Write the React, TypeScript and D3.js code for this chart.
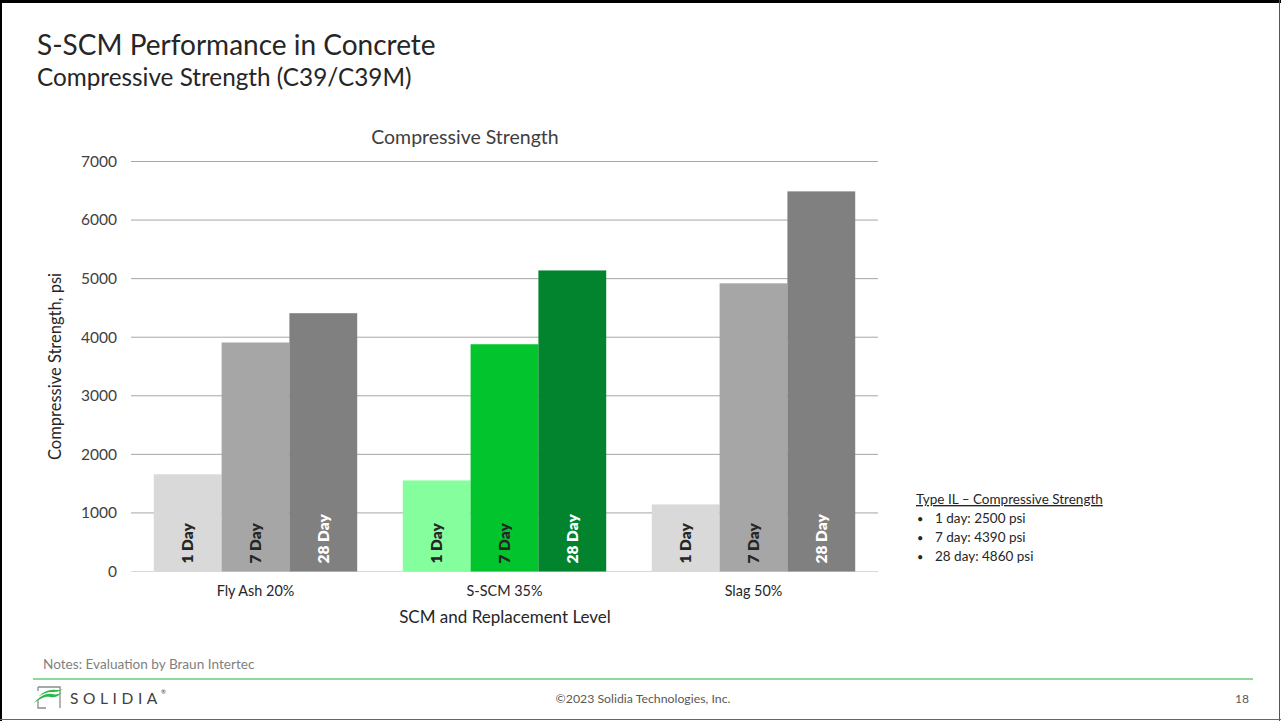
import React from "react";
import * as d3 from "d3";

// Replacement levels (x categories) and curing ages (series)
const categories = ["Fly Ash 20%", "S-SCM 35%", "Slag 50%"];
const ages = ["1 Day", "7 Day", "28 Day"];

// Compressive strength, psi, per category for each age
const day1 = [1660, 1555, 1145];
const day7 = [3910, 3880, 4920];
const day28 = [4410, 5140, 6490];

const yTicks = [0, 1000, 2000, 3000, 4000, 5000, 6000, 7000];

// Fill per category (rows) and age (columns)
const grayFills = ["#D9D9D9", "#A6A6A6", "#808080"];
const greenFills = ["#85FF9E", "#02C42D", "#02842F"];
const labelColors = ["#262626", "#262626", "#FFFFFF"];

const typeILNotes = ["1 day: 2500 psi", "7 day: 4390 psi", "28 day: 4860 psi"];

const FONT = "Lato, 'Open Sans', sans-serif";

export default function App() {
  const W = 1281;
  const H = 721;
  const plot = { left: 131, right: 878, top: 161.5, bottom: 571.5 };

  const x0 = d3
    .scaleBand<string>()
    .domain(categories)
    .range([plot.left, plot.right])
    .paddingInner(0.183)
    .paddingOuter(0.0915);
  const x1 = d3.scaleBand<string>().domain(ages).range([0, x0.bandwidth()]);
  const y = d3.scaleLinear().domain([0, 7000]).range([plot.bottom, plot.top]);

  const series = [day1, day7, day28];

  return (
    <svg
      width={W}
      height={H}
      viewBox={`0 0 ${W} ${H}`}
      style={{ position: "absolute", left: 0, top: 0, background: "#fff" }}
      fontFamily={FONT}
    >
      {/* slide frame */}
      <rect x={0} y={0} width={W} height={H} fill="#fff" />
      <line x1={0} y1={1.5} x2={W} y2={1.5} stroke="#000" strokeWidth={3} />
      <line x1={1} y1={0} x2={1} y2={H} stroke="#000" strokeWidth={2} />
      <line x1={W - 1.5} y1={0} x2={W - 1.5} y2={H} stroke="#555" strokeWidth={1} />
      <line x1={0} y1={H - 1.5} x2={W} y2={H - 1.5} stroke="#666" strokeWidth={1} />

      {/* slide titles */}
      <text x={37} y={55} fontSize={28} fill="#262626">
        S-SCM Performance in Concrete
      </text>
      <text x={37} y={86} fontSize={24.3} fill="#262626">
        Compressive Strength (C39/C39M)
      </text>

      {/* chart title */}
      <text x={465} y={144} fontSize={19.5} fill="#404040" textAnchor="middle">
        Compressive Strength
      </text>

      {/* gridlines and y ticks */}
      {yTicks.map((t) => (
        <g key={t}>
          <line
            x1={plot.left}
            x2={plot.right}
            y1={y(t)}
            y2={y(t)}
            stroke={t === 0 ? "#D9D9D9" : "#A6A6A6"}
            strokeWidth={1}
          />
          <text
            x={117}
            y={y(t)}
            dy="0.35em"
            fontSize={15.5}
            fill="#404040"
            textAnchor="end"
          >
            {t}
          </text>
        </g>
      ))}

      {/* bars */}
      {categories.map((cat, ci) => {
        const fills = ci === 1 ? greenFills : grayFills;
        return (
          <g key={cat} transform={`translate(${x0(cat)},0)`}>
            {ages.map((age, ai) => {
              const v = series[ai][ci];
              const bx = x1(age)!;
              const bw = x1.bandwidth();
              return (
                <g key={age}>
                  <rect
                    x={bx}
                    y={y(v)}
                    width={bw}
                    height={y(0) - y(v)}
                    fill={fills[ai]}
                  />
                  <text
                    transform={`translate(${bx + bw / 2},${plot.bottom - 8}) rotate(-90)`}
                    dy="0.36em"
                    fontSize={15.5}
                    fontWeight={800}
                    fill={labelColors[ai]}
                  >
                    {age}
                  </text>
                </g>
              );
            })}
            <text
              x={x0.bandwidth() / 2}
              y={596}
              fontSize={14.4}
              fill="#262626"
              textAnchor="middle"
            >
              {cat}
            </text>
          </g>
        );
      })}

      {/* axis titles */}
      <text x={505} y={623} fontSize={17} fill="#262626" textAnchor="middle">
        SCM and Replacement Level
      </text>
      <text
        transform={`translate(61,${(plot.top + plot.bottom) / 2}) rotate(-90)`}
        fontSize={16.5}
        fill="#262626"
        textAnchor="middle"
      >
        Compressive Strength, psi
      </text>

      {/* Type IL reference values */}
      <text x={916} y={504} fontSize={13.5} fill="#262626" textDecoration="underline">
        Type IL – Compressive Strength
      </text>
      {typeILNotes.map((n, i) => (
        <g key={n}>
          <text x={917} y={523 + i * 19} fontSize={11} fill="#262626">
            •
          </text>
          <text x={935} y={523 + i * 19} fontSize={13.5} fill="#262626">
            {n}
          </text>
        </g>
      ))}

      {/* notes and footer */}
      <text x={43} y={669} fontSize={13.6} fill="#7F7F7F">
        Notes: Evaluation by Braun Intertec
      </text>
      <line x1={33} x2={1253} y1={679} y2={679} stroke="#22B33A" strokeWidth={1.2} />

      {/* Solidia mark */}
      <g>
        <path d="M38,687 H60 V708" fill="none" stroke="#8C8C8C" strokeWidth={1.3} />
        <path d="M38,687 V691 M38,700 V708 H46" fill="none" stroke="#8C8C8C" strokeWidth={1.3} />
        <path
          d="M34,703 C40,696 46,693 52,694 C56,695 59,694 62,692 C58,697 54,698 50,697 C45,696 40,699 34,703 Z"
          fill="#2DB84B"
        />
        <path
          d="M38,697 C44,691 50,689 56,690 C59,690 61,690 63,689 C59,692 55,692 52,692 C47,692 42,694 38,697 Z"
          fill="#2DB84B"
        />
      </g>
      <text x={70} y={704} fontSize={15.5} fill="#404040" letterSpacing={4.6}>
        SOLIDIA
      </text>
      <text x={161} y={694} fontSize={6} fill="#404040">
        ®
      </text>
      <text x={643} y={703} fontSize={12.3} fill="#595959" textAnchor="middle">
        ©2023 Solidia Technologies, Inc.
      </text>
      <text x={1249} y={703} fontSize={12} fill="#595959" textAnchor="end">
        18
      </text>
    </svg>
  );
}
